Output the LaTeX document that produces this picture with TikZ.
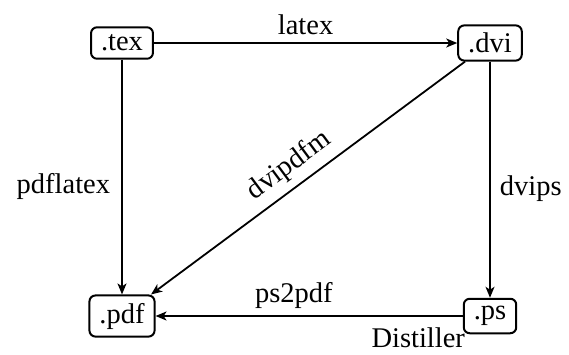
\documentclass[tikz,border=0pt]{standalone}
\usepackage{fontspec}
\setmainfont{Liberation Serif}
\usetikzlibrary{arrows.meta}
\begin{document}
\begin{tikzpicture}[x=1pt,y=-1pt,
  font=\fontsize{28.5}{34}\selectfont,
  file/.style={draw,line width=2pt,rounded corners=6pt,inner xsep=10pt,inner ysep=7.5pt},
  conv/.style={line width=1.8pt,-{Stealth[length=11pt,width=9pt,inset=3pt]}},
  lab/.style={inner sep=7pt}]
\useasboundingbox (0,0) rectangle (569,354);
\node[file] (tex) at (122,43) {.tex};
\node[file] (dvi) at (490,43) {.dvi};
\node[file] (pdf) at (122,316) {.pdf};
\node[file] (ps)  at (490,316) {.ps};
\draw[conv] (tex) -- node[lab,above] {latex} (dvi);
\draw[conv] (tex) -- node[lab,left,inner xsep=11pt,pos=0.54] {pdflatex} (pdf);
\draw[conv] (dvi) -- node[lab,right,inner xsep=9pt,pos=0.54] {dvips} (ps);
\draw[conv] (dvi) -- node[lab,above,sloped,pos=0.52] {dvipdfm} (pdf);
\draw[conv] (ps) -- node[lab,above,pos=0.55] {ps2pdf} node[lab,below,inner ysep=11pt,pos=0.145] {Distiller} (pdf);
\end{tikzpicture}
\end{document}
